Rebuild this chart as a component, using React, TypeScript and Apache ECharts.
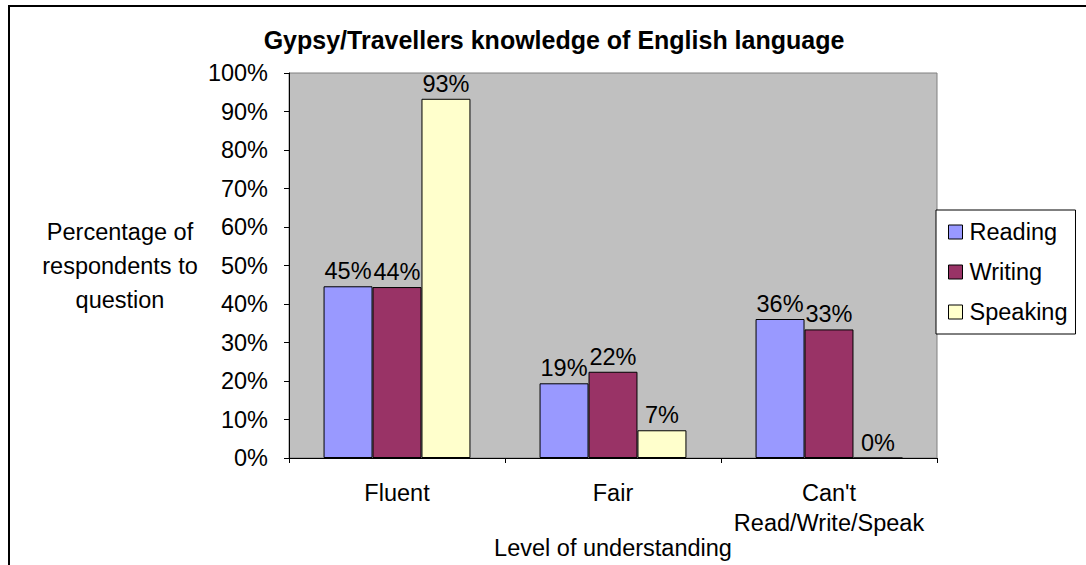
import React, { useEffect, useRef } from "react";
import * as echarts from "echarts";

const categories = ["Fluent", "Fair", "Can't\nRead/Write/Speak"];
const seriesNames = ["Reading", "Writing", "Speaking"];
const reading = [44.6, 19.4, 36.1];
const writing = [44.4, 22.4, 33.4];
const speaking = [93.3, 7.2, 0];
const colors = ["#9999FF", "#993366", "#FFFFCC"];
const yTicks = { min: 0, max: 100, interval: 10 };

const FONT = "'Liberation Sans', Arial, sans-serif";
const FS = 23.5;

export default function App() {
  const ref = useRef<HTMLDivElement>(null);
  useEffect(() => {
    if (!ref.current) return;
    const chart = echarts.init(ref.current, null, { renderer: "svg" });
    const values = [reading, writing, speaking];
    chart.setOption({
      animation: false,
      textStyle: { fontFamily: FONT, color: "#000" },
      grid: {
        left: 289,
        right: 149,
        top: 73,
        bottom: 107,
        containLabel: false,
        outerBoundsMode: "none",
        show: true,
        backgroundColor: "#C0C0C0",
        borderColor: "#808080",
        borderWidth: 1,
      },
      legend: {
        orient: "vertical",
        left: 936,
        top: 210,
        width: 130,
        padding: [10, 8, 10, 12],
        itemGap: 16,
        itemWidth: 14,
        itemHeight: 14,
        icon: "rect",
        backgroundColor: "#FFFFFF",
        borderColor: "#000",
        borderWidth: 1,
        textStyle: { fontFamily: FONT, fontSize: FS, color: "#000", padding: [0, 0, 0, 2] },
        itemStyle: { borderColor: "#000", borderWidth: 1 },
        data: seriesNames,
      },
      xAxis: {
        type: "category",
        data: categories,
        axisLine: { lineStyle: { color: "#000", width: 1 } },
        axisTick: { show: true, length: 5, lineStyle: { color: "#000" } },
        axisLabel: {
          fontFamily: FONT,
          fontSize: FS,
          color: "#000",
          margin: 20,
          lineHeight: 30,
          interval: 0,
        },
      },
      yAxis: {
        type: "value",
        min: yTicks.min,
        max: yTicks.max,
        interval: yTicks.interval,
        axisLine: { show: true, lineStyle: { color: "#000", width: 1 } },
        axisTick: { show: true, length: 5, lineStyle: { color: "#000" } },
        splitLine: { show: false },
        axisLabel: {
          fontFamily: FONT,
          fontSize: FS,
          color: "#000",
          margin: 21,
          formatter: "{value}%",
        },
      },
      graphic: [
        {
          type: "polyline",
          shape: { points: [[9, 565], [9, 6], [1086, 6]] },
          style: { stroke: "#000", lineWidth: 2, fill: "none" },
          silent: true,
        },
        {
          type: "text",
          x: 554,
          y: 40,
          style: {
            text: "Gypsy/Travellers knowledge of English language",
            font: `bold 25px ${FONT}`,
            fill: "#000",
            textAlign: "center",
            textVerticalAlign: "middle",
          },
        },
        {
          type: "text",
          x: 120,
          y: 266,
          style: {
            text: "Percentage of\nrespondents to\nquestion",
            font: `${FS}px ${FONT}`,
            lineHeight: 34,
            fill: "#000",
            textAlign: "center",
            textVerticalAlign: "middle",
          },
        },
        {
          type: "text",
          x: 613,
          y: 548,
          style: {
            text: "Level of understanding",
            font: `${FS}px ${FONT}`,
            fill: "#000",
            textAlign: "center",
            textVerticalAlign: "middle",
          },
        },
      ],
      series: seriesNames.map((name, i) => ({
        name,
        type: "bar",
        data: values[i],
        barGap: "0%",
        barCategoryGap: "32%",
        itemStyle: { color: colors[i], borderColor: "#000", borderWidth: 1 },
        label: {
          show: true,
          position: "top",
          distance: 3,
          fontFamily: FONT,
          fontSize: FS,
          color: "#000",
          formatter: (p: any) => Math.round(p.value) + "%",
        },
      })),
    });
    return () => chart.dispose();
  }, []);
  return (
    <div
      ref={ref}
      style={{ position: "fixed", left: 0, top: 0, width: 1086, height: 565, background: "#fff" }}
    />
  );
}
